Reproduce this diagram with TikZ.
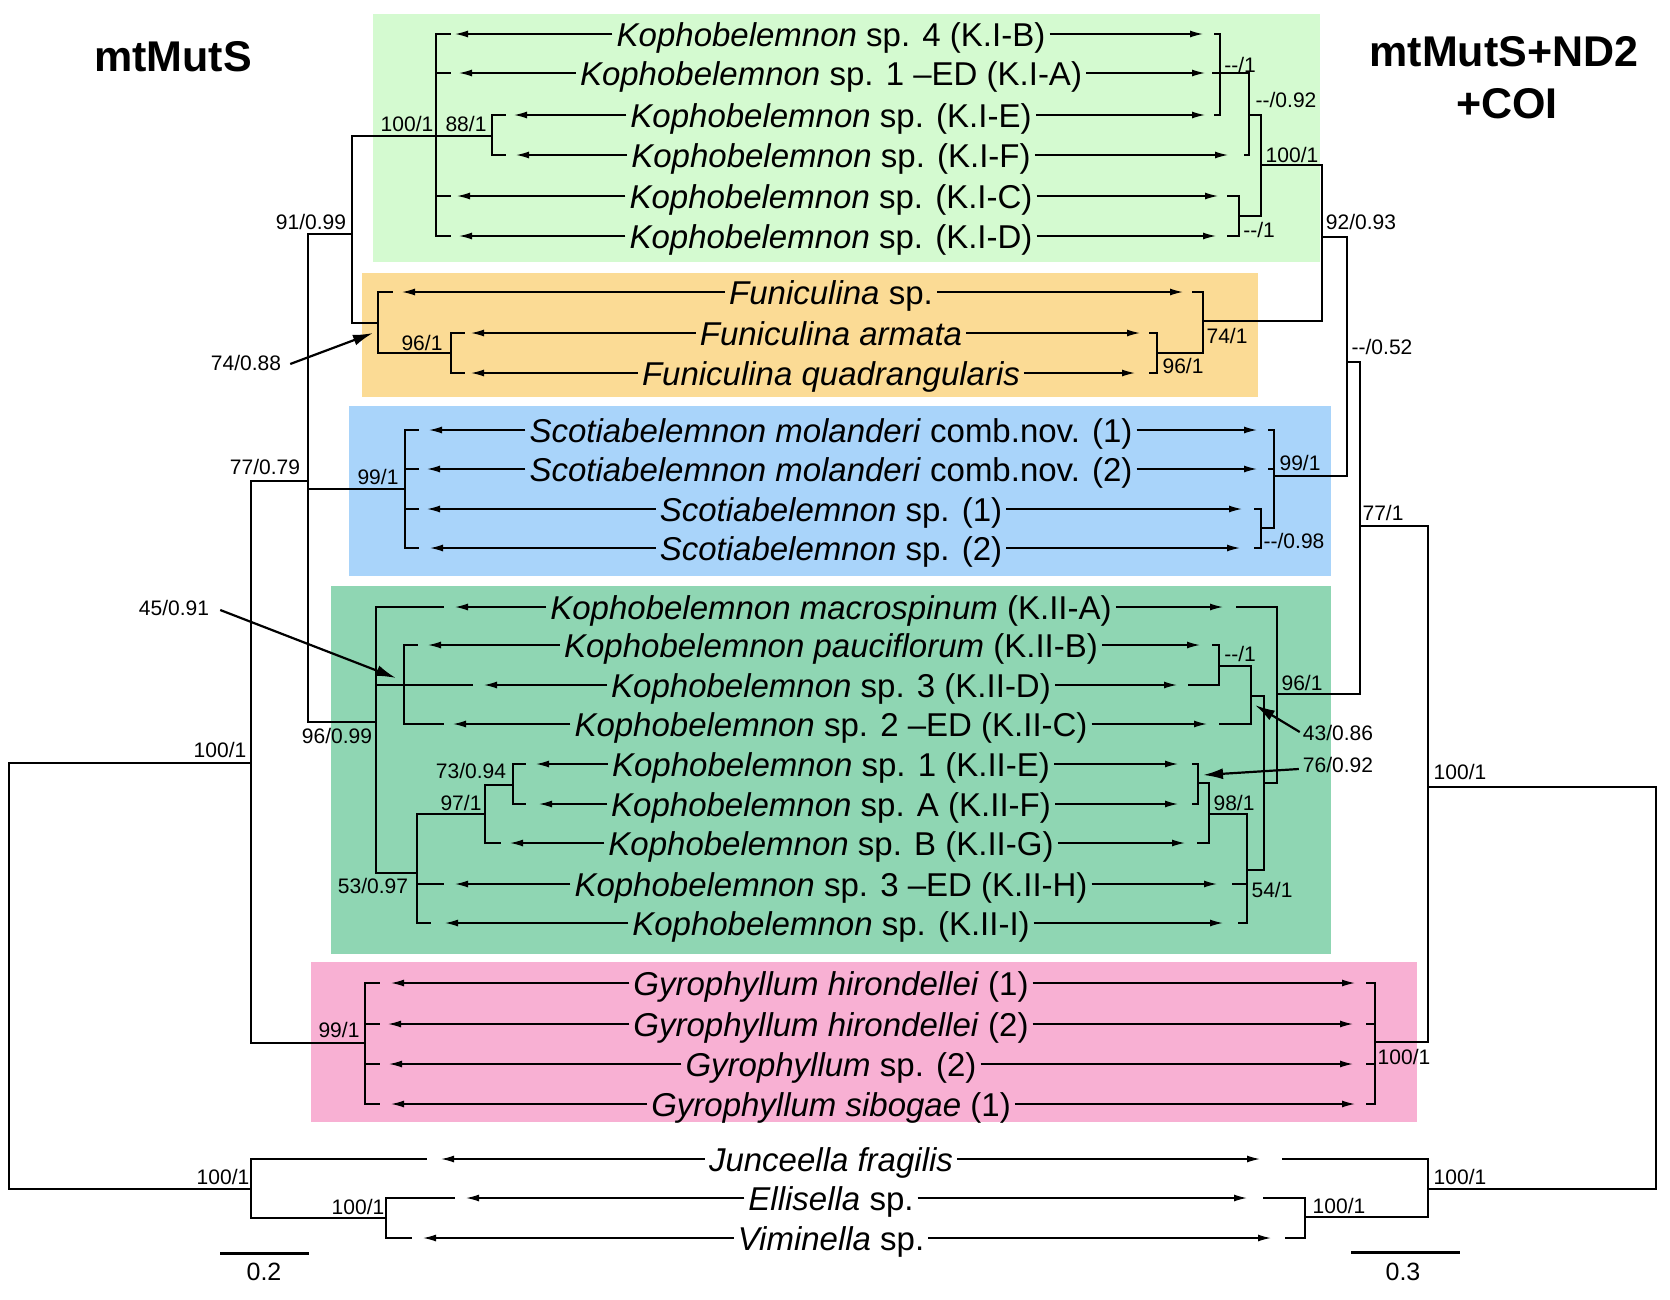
\documentclass[tikz,border=0pt]{standalone}
\usepackage{fontspec}
\setmainfont{Liberation Sans}
\usetikzlibrary{arrows.meta}
\definecolor{cKI}{HTML}{D4FAD0}
\definecolor{cFun}{HTML}{FBDB95}
\definecolor{cSco}{HTML}{A9D4FA}
\definecolor{cKII}{HTML}{8FD6B3}
\definecolor{cGyr}{HTML}{F8B0D3}
\tikzset{
  treeline/.style={line width=1.4pt, line cap=rect},
  arr/.style={line width=1.4pt, -{Latex[length=13pt,width=7pt]}},
  taxon/.style={font=\fontsize{33}{36}\selectfont, inner xsep=4pt, inner ysep=0pt, text height=24pt, text depth=0pt},
  suplab/.style={font=\fontsize{21}{24}\selectfont, inner sep=0pt, text height=15pt, text depth=0pt},
  scalelab/.style={font=\fontsize{25}{28}\selectfont, inner sep=0pt, text height=18pt, text depth=0pt},
  ttl/.style={font=\fontsize{43}{52}\selectfont\bfseries, inner sep=0pt, text height=31pt, text depth=0pt},
  ann/.style={line width=2.2pt, -{Latex[length=20pt,width=11pt]}},
  sbar/.style={line width=3pt},
}
\newcommand{\taxon}[5]{%
  \node[taxon] (t#1) at (831,#2) {#5};
  \coordinate (l#1) at (#3,#2);
  \coordinate (r#1) at (#4,#2);
  \draw[arr] (t#1.west) -- (l#1);
  \draw[arr] (t#1.east) -- (r#1);
}
\begin{document}
\begin{tikzpicture}[x=1pt,y=-1pt]
\useasboundingbox (0,0) rectangle (1670,1299);
% clade boxes
\fill[cKI] (373,14) rectangle (1320,262);
\fill[cFun] (362,273) rectangle (1258,397);
\fill[cSco] (349,406) rectangle (1331,576);
\fill[cKII] (331,586) rectangle (1331,954);
\fill[cGyr] (311,962) rectangle (1417,1122);

% titles
\node[ttl] (ttlL) at (173,56) {mtMutS};
\node[ttl] (ttlR1) at (1504,51) {mtMutS+ND2};
\node[ttl] (ttlR2) at (1507,103) {+COI};

% taxa
\taxon{1}{34}{455}{1203}{\textit{Kophobelemnon} sp. 4 (K.I-B)}
\taxon{2}{73}{459}{1205}{\textit{Kophobelemnon} sp. 1 –ED (K.I-A)}
\taxon{3}{115}{514}{1205}{\textit{Kophobelemnon} sp. (K.I-E)}
\taxon{4}{155}{516}{1228}{\textit{Kophobelemnon} sp. (K.I-F)}
\taxon{5}{196}{457}{1218}{\textit{Kophobelemnon} sp. (K.I-C)}
\taxon{6}{236}{459}{1216}{\textit{Kophobelemnon} sp. (K.I-D)}
\taxon{7}{292}{402}{1183}{\textit{Funiculina} sp.}
\taxon{8}{333}{471}{1140}{\textit{Funiculina armata}}
\taxon{9}{373}{471}{1135}{\textit{Funiculina quadrangularis}}
\taxon{10}{430}{429}{1257}{\textit{Scotiabelemnon molanderi} comb.nov. (1)}
\taxon{11}{469}{427}{1257}{\textit{Scotiabelemnon molanderi} comb.nov. (2)}
\taxon{12}{509}{427}{1242}{\textit{Scotiabelemnon} sp. (1)}
\taxon{13}{548}{430}{1240}{\textit{Scotiabelemnon} sp. (2)}
\taxon{14}{607}{455}{1223}{\textit{Kophobelemnon macrospinum} (K.II-A)}
\taxon{15}{645}{428}{1200}{\textit{Kophobelemnon pauciflorum} (K.II-B)}
\taxon{16}{685}{484}{1177}{\textit{Kophobelemnon} sp. 3 (K.II-D)}
\taxon{17}{724}{453}{1207}{\textit{Kophobelemnon} sp. 2 –ED (K.II-C)}
\taxon{18}{764}{536}{1178}{\textit{Kophobelemnon} sp. 1 (K.II-E)}
\taxon{19}{804}{539}{1178}{\textit{Kophobelemnon} sp. A (K.II-F)}
\taxon{20}{843}{510}{1185}{\textit{Kophobelemnon} sp. B (K.II-G)}
\taxon{21}{884}{455}{1217}{\textit{Kophobelemnon} sp. 3 –ED (K.II-H)}
\taxon{22}{923}{445}{1223}{\textit{Kophobelemnon} sp. (K.II-I)}
\taxon{23}{983}{391}{1355}{\textit{Gyrophyllum hirondellei} (1)}
\taxon{24}{1024}{388}{1353}{\textit{Gyrophyllum hirondellei} (2)}
\taxon{25}{1064}{389}{1353}{\textit{Gyrophyllum} sp. (2)}
\taxon{26}{1104}{391}{1355}{\textit{Gyrophyllum sibogae} (1)}
\taxon{27}{1159}{441}{1260}{\textit{Junceella fragilis}}
\taxon{28}{1198}{466}{1247}{\textit{Ellisella} sp.}
\taxon{29}{1238}{423}{1271}{\textit{Viminella} sp.}

% ---------------- left tree (mtMutS)
\begin{scope}[treeline]
% K.I clade
\draw (436,34) -- (436,236);
\draw (436,34) -- (450,34);
\draw (436,73) -- (450,73);
\draw (436,196) -- (450,196);
\draw (436,236) -- (450,236);
\draw (492,115) -- (492,155);
\draw (492,115) -- (505,115);
\draw (492,155) -- (505,155);
\draw (352,136) -- (492,136);
% 91/0.99
\draw (352,136) -- (352,323);
\draw (308,234) -- (352,234);
% Funiculina
\draw (352,323) -- (378,323);
\draw (378,292) -- (378,353);
\draw (378,292) -- (392,292);
\draw (378,353) -- (451,353);
\draw (451,333) -- (451,373);
\draw (451,333) -- (464,333);
\draw (451,373) -- (464,373);
% node at 308
\draw (308,234) -- (308,722);
\draw (251,481) -- (308,481);
% Scotiabelemnon
\draw (308,489) -- (405,489);
\draw (405,430) -- (405,548);
\draw (405,430) -- (418,430);
\draw (405,469) -- (418,469);
\draw (405,509) -- (418,509);
\draw (405,548) -- (418,548);
% K.II clade
\draw (308,722) -- (376,722);
\draw (376,607) -- (376,873);
\draw (376,607) -- (443,607);
\draw (376,685) -- (472,685);
\draw (404,645) -- (404,724);
\draw (404,645) -- (417,645);
\draw (404,724) -- (443,724);
\draw (376,873) -- (417,873);
\draw (417,814) -- (417,923);
\draw (417,814) -- (485,814);
\draw (417,884) -- (443,884);
\draw (417,923) -- (430,923);
\draw (485,785) -- (485,843);
\draw (485,785) -- (513,785);
\draw (485,843) -- (500,843);
\draw (513,764) -- (513,804);
\draw (513,764) -- (525,764);
\draw (513,804) -- (525,804);
% Gyrophyllum
\draw (251,481) -- (251,1043);
\draw (251,1043) -- (365,1043);
\draw (365,983) -- (365,1104);
\draw (365,983) -- (379,983);
\draw (365,1024) -- (379,1024);
\draw (365,1064) -- (379,1064);
\draw (365,1104) -- (379,1104);
% root and outgroups
\draw (9,763) -- (251,763);
\draw (9,763) -- (9,1189);
\draw (9,1189) -- (251,1189);
\draw (251,1159) -- (251,1218);
\draw (251,1159) -- (426,1159);
\draw (251,1218) -- (386,1218);
\draw (386,1198) -- (386,1238);
\draw (386,1198) -- (454,1198);
\draw (386,1238) -- (411,1238);
\end{scope}

% ---------------- right tree (mtMutS+ND2+COI)
\begin{scope}[treeline]
\draw (1220,34) -- (1220,115);
\draw (1215,34) -- (1220,34);
\draw (1215,115) -- (1220,115);
\draw (1213,73) -- (1249,73);
\draw (1249,73) -- (1249,155);
\draw (1245,155) -- (1249,155);
\draw (1249,115) -- (1261,115);
\draw (1261,115) -- (1261,216);
\draw (1261,165) -- (1322,165);
\draw (1239,196) -- (1239,236);
\draw (1228,196) -- (1239,196);
\draw (1228,236) -- (1239,236);
\draw (1239,216) -- (1261,216);
\draw (1322,165) -- (1322,321);
\draw (1322,237) -- (1347,237);
% Funiculina
\draw (1203,292) -- (1203,353);
\draw (1193,292) -- (1203,292);
\draw (1203,321) -- (1322,321);
\draw (1157,333) -- (1157,373);
\draw (1150,333) -- (1157,333);
\draw (1150,373) -- (1157,373);
\draw (1157,353) -- (1203,353);
% --/0.52
\draw (1347,237) -- (1347,476);
\draw (1347,362) -- (1360,362);
% Scotiabelemnon
\draw (1274,430) -- (1274,528);
\draw (1269,430) -- (1274,430);
\draw (1269,469) -- (1274,469);
\draw (1274,476) -- (1347,476);
\draw (1261,509) -- (1261,548);
\draw (1255,509) -- (1261,509);
\draw (1255,548) -- (1261,548);
\draw (1261,528) -- (1274,528);
% 77/1
\draw (1360,362) -- (1360,694);
\draw (1360,526) -- (1428,526);
% K.II clade
\draw (1277,607) -- (1277,783);
\draw (1237,607) -- (1277,607);
\draw (1277,694) -- (1360,694);
\draw (1219,645) -- (1219,685);
\draw (1213,645) -- (1219,645);
\draw (1189,685) -- (1219,685);
\draw (1219,666) -- (1251,666);
\draw (1251,666) -- (1251,724);
\draw (1220,724) -- (1251,724);
\draw (1251,696) -- (1264,696);
\draw (1264,696) -- (1264,870);
\draw (1264,783) -- (1277,783);
\draw (1198,764) -- (1198,804);
\draw (1193,764) -- (1198,764);
\draw (1193,804) -- (1198,804);
\draw (1198,783) -- (1209,783);
\draw (1209,783) -- (1209,843);
\draw (1198,843) -- (1209,843);
\draw (1209,814) -- (1247,814);
\draw (1247,814) -- (1247,923);
\draw (1233,884) -- (1247,884);
\draw (1239,923) -- (1247,923);
\draw (1247,870) -- (1264,870);
% Gyrophyllum
\draw (1375,983) -- (1375,1104);
\draw (1367,983) -- (1375,983);
\draw (1367,1024) -- (1375,1024);
\draw (1367,1064) -- (1375,1064);
\draw (1367,1104) -- (1375,1104);
\draw (1375,1042) -- (1428,1042);
\draw (1428,526) -- (1428,1042);
% root and outgroups
\draw (1428,787) -- (1656,787);
\draw (1656,787) -- (1656,1189);
\draw (1428,1189) -- (1656,1189);
\draw (1428,1159) -- (1428,1217);
\draw (1283,1159) -- (1428,1159);
\draw (1305,1217) -- (1428,1217);
\draw (1305,1198) -- (1305,1238);
\draw (1264,1198) -- (1305,1198);
\draw (1286,1238) -- (1305,1238);
\end{scope}

% ---------------- support values, left
\node[suplab] (s1) at (407,124) {100/1};
\node[suplab] (s2) at (466,124) {88/1};
\node[suplab] (s3) at (311,222) {91/0.99};
\node[suplab] (s4) at (246,363) {74/0.88};
\node[suplab] (s5) at (422,343) {96/1};
\node[suplab] (s6) at (265,467) {77/0.79};
\node[suplab] (s7) at (378,477) {99/1};
\node[suplab] (s8) at (174,608) {45/0.91};
\node[suplab] (s9) at (337,736) {96/0.99};
\node[suplab] (s10) at (471,771) {73/0.94};
\node[suplab] (s11) at (461,803) {97/1};
\node[suplab] (s12) at (373,886) {53/0.97};
\node[suplab] (s13) at (220,750) {100/1};
\node[suplab] (s14) at (339,1030) {99/1};
\node[suplab] (s15) at (223,1177) {100/1};
\node[suplab] (s16) at (358,1207) {100/1};
% support values, right
\node[suplab] (q1) at (1240,65) {-{}-/1};
\node[suplab] (q2) at (1286,100) {-{}-/0.92};
\node[suplab] (q3) at (1292,155) {100/1};
\node[suplab] (q4) at (1259,230) {-{}-/1};
\node[suplab] (q5) at (1361,222) {92/0.93};
\node[suplab] (q6) at (1227,336) {74/1};
\node[suplab] (q7) at (1183,366) {96/1};
\node[suplab] (q8) at (1382,347) {-{}-/0.52};
\node[suplab] (q9) at (1300,463) {99/1};
\node[suplab] (q10) at (1294,541) {-{}-/0.98};
\node[suplab] (q11) at (1383,513) {77/1};
\node[suplab] (q12) at (1302,683) {96/1};
\node[suplab] (q13) at (1240,654) {-{}-/1};
\node[suplab] (q14) at (1338,733) {43/0.86};
\node[suplab] (q15) at (1338,765) {76/0.92};
\node[suplab] (q16) at (1234,803) {98/1};
\node[suplab] (q17) at (1272,890) {54/1};
\node[suplab] (q18) at (1460,772) {100/1};
\node[suplab] (q19) at (1404,1057) {100/1};
\node[suplab] (q20) at (1460,1177) {100/1};
\node[suplab] (q21) at (1339,1206) {100/1};

% annotation arrows
\coordinate (a4) at (373,333);
\coordinate (a8) at (396,678);
\coordinate (a14) at (1255,705);
\coordinate (a15) at (1203,775);
\draw[ann] ([xshift=9pt,yshift=-1pt]s4.east) -- (a4);
\draw[ann] ([xshift=11pt,yshift=-2pt]s8.east) -- (a8);
\draw[ann] ([xshift=-3pt,yshift=1pt]q14.west) -- (a14);
\draw[ann] ([xshift=-4pt,yshift=-4pt]q15.west) -- (a15);

% scale bars
\coordinate (b1) at (220,1253);
\coordinate (b2) at (309,1253);
\draw[sbar] (b1) -- (b2);
\node[scalelab] (sc1) at (264,1271) {0.2};
\coordinate (b3) at (1351,1252);
\coordinate (b4) at (1460,1252);
\draw[sbar] (b3) -- (b4);
\node[scalelab] (sc2) at (1403,1271) {0.3};
\end{tikzpicture}
\end{document}
